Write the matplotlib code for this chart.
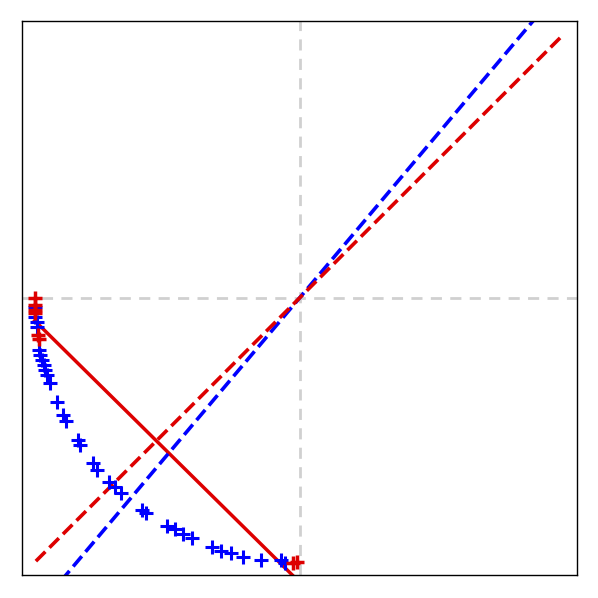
import numpy as np
import matplotlib
matplotlib.use("Agg")
import matplotlib.pyplot as plt

# blue + markers
blue_x = [0.023, 0.023, 0.027, 0.027, 0.031, 0.032, 0.036, 0.040, 0.041, 0.045,
          0.050, 0.063, 0.074, 0.079, 0.101, 0.105, 0.128, 0.135, 0.157, 0.168,
          0.178, 0.216, 0.223, 0.261, 0.276, 0.290, 0.306, 0.342, 0.359, 0.377,
          0.398, 0.431, 0.467, 0.474]
blue_y = [0.484, 0.466, 0.457, 0.448, 0.406, 0.397, 0.388, 0.379, 0.370, 0.361,
          0.347, 0.312, 0.289, 0.278, 0.244, 0.235, 0.202, 0.190, 0.168, 0.159,
          0.148, 0.117, 0.112, 0.088, 0.083, 0.074, 0.067, 0.051, 0.043, 0.040,
          0.032, 0.027, 0.027, 0.022]

# red + markers
red_x = [0.023, 0.023, 0.023, 0.023, 0.029, 0.031, 0.488, 0.495]
red_y = [0.500, 0.487, 0.478, 0.473, 0.433, 0.426, 0.022, 0.023]

# lines
red_solid_x = [0.023, 0.487]
red_solid_y = [0.459, 0.0]
blue_dash_x = [0.07, 0.93]
blue_dash_y = [-0.011, 1.011]
red_dash_x = [0.025, 0.975]
red_dash_y = [0.025, 0.975]

blue = "#0000ff"
red = "#dd0000"

fig = plt.figure(figsize=(5.98, 5.98), dpi=100)
ax = fig.add_axes([22 / 598, 23 / 598, 555 / 598, 554 / 598])

ax.axvline(0.5, color="#d0d0d0", ls=(0, (4, 3)), lw=2, zorder=0)
ax.axhline(0.5, color="#d0d0d0", ls=(0, (4, 3)), lw=2, zorder=0)

ax.plot(red_solid_x, red_solid_y, color=red, lw=2.5, zorder=2)
ax.plot(blue_dash_x, blue_dash_y, color=blue, ls="--", lw=2.6, zorder=2)
ax.plot(red_dash_x, red_dash_y, color=red, ls="--", lw=2.6, zorder=2)

ax.scatter(blue_x, blue_y, marker="+", s=110, linewidths=2.2, color=blue, zorder=3)
ax.scatter(red_x, red_y, marker="+", s=110, linewidths=2.5, color=red, zorder=4)

ax.set_xlim(0, 1)
ax.set_ylim(0, 1)
ax.set_xticks([])
ax.set_yticks([])
for s in ax.spines.values():
    s.set_linewidth(1.0)

fig.savefig("out.png", dpi=100)
